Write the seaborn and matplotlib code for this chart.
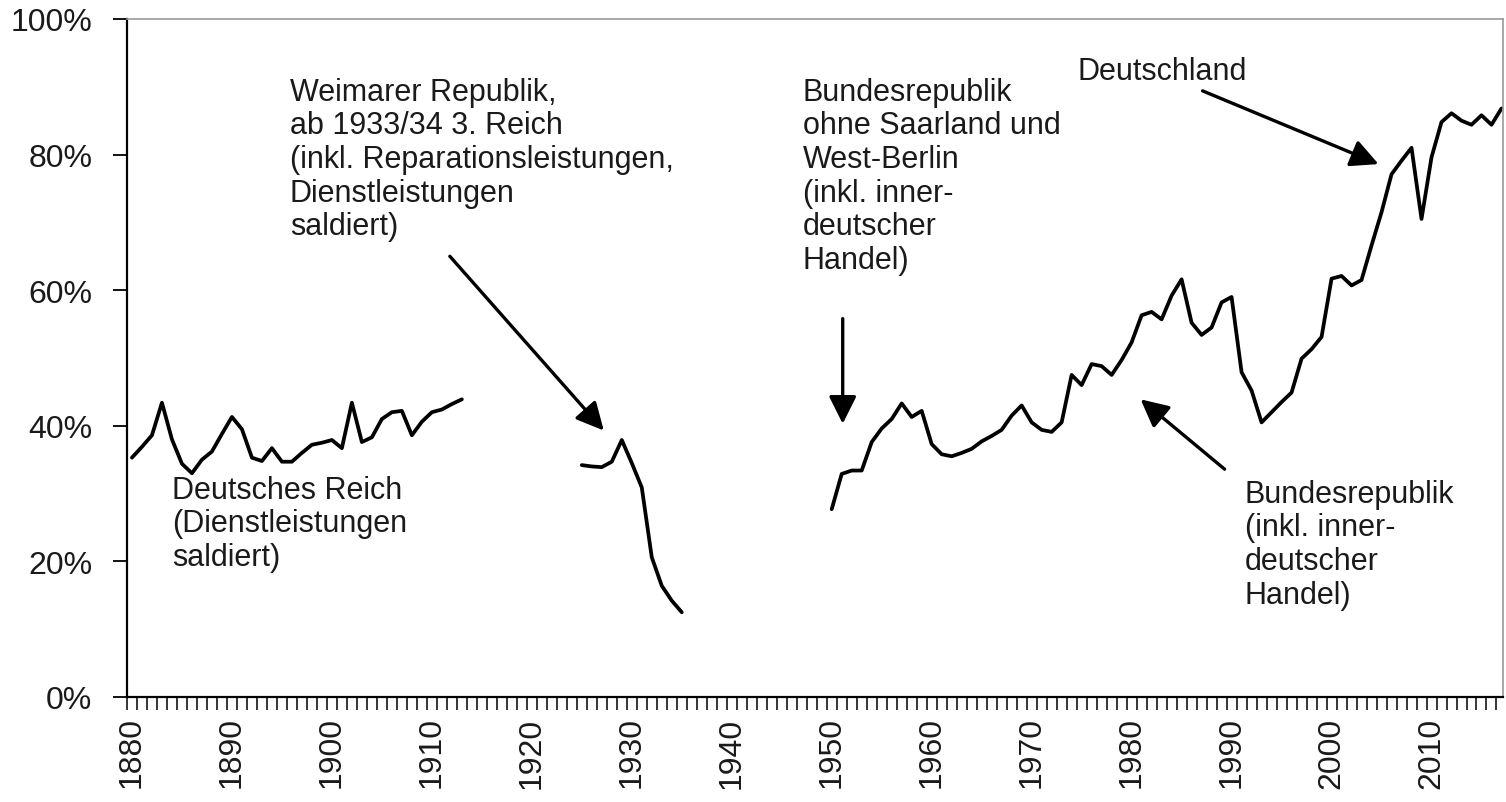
import matplotlib
matplotlib.use("Agg")
import matplotlib.pyplot as plt
import matplotlib.ticker as mticker
import numpy as np
import pandas as pd
import seaborn as sns

# ── Data (share in %) ─────────────────────────────────────────────────────────
reich_years = list(range(1880, 1914))
reich_share = [35.3, 36.9, 38.6, 43.4, 38.0, 34.4, 33.0, 35.0, 36.2, 38.8,
               41.3, 39.5, 35.3, 34.8, 36.7, 34.7, 34.7, 36.0, 37.2, 37.5,
               37.9, 36.7, 43.4, 37.6, 38.3, 41.0, 42.0, 42.2, 38.6, 40.6,
               42.0, 42.4, 43.2, 43.9]

weimar_years = list(range(1925, 1936))
weimar_share = [34.2, 34.0, 33.9, 34.7, 37.9, 34.5, 30.9, 20.6, 16.4, 14.2, 12.5]

brd_years = list(range(1950, 2018))
brd_share = [27.7, 32.9, 33.4, 33.4, 37.6, 39.6, 41.0, 43.3, 41.3, 42.2,
             37.3, 35.8, 35.5, 36.0, 36.6, 37.7, 38.5, 39.4, 41.5, 43.0,
             40.5, 39.4, 39.1, 40.5, 47.5, 46.0, 49.1, 48.8, 47.5, 49.7,
             52.3, 56.3, 56.8, 55.7, 59.2, 61.6, 55.2, 53.4, 54.5, 58.2,
             59.0, 47.9, 45.2, 40.5, 42.0, 43.5, 44.9, 49.9, 51.3, 53.1,
             61.7, 62.1, 60.7, 61.5, 66.6, 71.5, 77.1, 79.1, 81.0, 70.5,
             79.6, 84.8, 86.1, 85.0, 84.4, 85.8, 84.4, 86.8]

segments = {
    "Deutsches Reich": (reich_years, reich_share),
    "Weimar / 3. Reich": (weimar_years, weimar_share),
    "Bundesrepublik / Deutschland": (brd_years, brd_share),
}

# ── Style ─────────────────────────────────────────────────────────────────────
sns.set_theme(style="white")
plt.rcParams["font.family"] = ["Liberation Sans", "DejaVu Sans"]
TXT = "#1a1a1a"

fig = plt.figure(figsize=(15.06, 8.03), dpi=100)
ax = fig.add_axes([0.0843, 0.1308, 0.9137, 0.8443])

for name, (yrs, vals) in segments.items():
    df = pd.DataFrame({"year": yrs, "share": vals})
    sns.lineplot(data=df, x="year", y="share", color="black", linewidth=2.7,
                 ax=ax, legend=False)

ax.set_xlim(1879.53, 2017.15)
ax.set_ylim(0, 100)
ax.set_xlabel("")
ax.set_ylabel("")

# y axis
ax.set_yticks([0, 20, 40, 60, 80, 100])
ax.yaxis.set_major_formatter(mticker.FuncFormatter(lambda v, p: f"{v:.0f}%"))
ax.tick_params(axis="y", direction="out", length=10, width=1.3, color="black",
               pad=15, labelsize=23, labelcolor=TXT, left=True)

# x axis: labels every decade, tick marks between years
ax.set_xticks(range(1880, 2011, 10))
ax.set_xticklabels([str(y) for y in range(1880, 2011, 10)], rotation=90)
ax.set_xticks(np.arange(1879.5, 2017, 1), minor=True)
ax.tick_params(axis="x", which="major", length=0, pad=14, labelsize=23,
               labelcolor=TXT)
ax.tick_params(axis="x", which="minor", direction="out", length=9, width=1.1,
               color="black", bottom=True)

for side in ["left", "bottom"]:
    ax.spines[side].set_color("black")
    ax.spines[side].set_linewidth(1.6)
for side in ["top", "right"]:
    ax.spines[side].set_color("#9a9a9a")
    ax.spines[side].set_linewidth(1.2)

# ── Annotations ───────────────────────────────────────────────────────────────
fs = 22
ls = 1.16
ax.text(1884.0, 32.8, "Deutsches Reich\n(Dienstleistungen\nsaldiert)",
        fontsize=fs, color=TXT, va="top", ha="left", linespacing=ls)
ax.text(1895.8, 91.5, "Weimarer Republik,\nab 1933/34 3. Reich\n"
        "(inkl. Reparationsleistungen,\nDienstleistungen\nsaldiert)",
        fontsize=fs, color=TXT, va="top", ha="left", linespacing=ls)
ax.text(1947.1, 91.5, "Bundesrepublik\nohne Saarland und\nWest-Berlin\n"
        "(inkl. inner-\ndeutscher\nHandel)",
        fontsize=fs, color=TXT, va="top", ha="left", linespacing=ls)
ax.text(1974.6, 94.6, "Deutschland", fontsize=fs, color=TXT, va="top", ha="left")
ax.text(1991.3, 32.2, "Bundesrepublik\n(inkl. inner-\ndeutscher\nHandel)",
        fontsize=fs, color=TXT, va="top", ha="left", linespacing=ls)

arrow = dict(arrowstyle="-|>", color="black", lw=2.4, mutation_scale=42,
             shrinkA=0, shrinkB=0)
ax.annotate("", xy=(1927.2, 39.3), xytext=(1911.8, 65.0), arrowprops=arrow)
ax.annotate("", xy=(1951.1, 40.3), xytext=(1951.1, 55.8), arrowprops=arrow)
ax.annotate("", xy=(2004.7, 78.6), xytext=(1987.1, 89.4), arrowprops=arrow)
ax.annotate("", xy=(1980.9, 43.9), xytext=(1989.3, 33.6), arrowprops=arrow)

fig.savefig("out.png", dpi=100)
